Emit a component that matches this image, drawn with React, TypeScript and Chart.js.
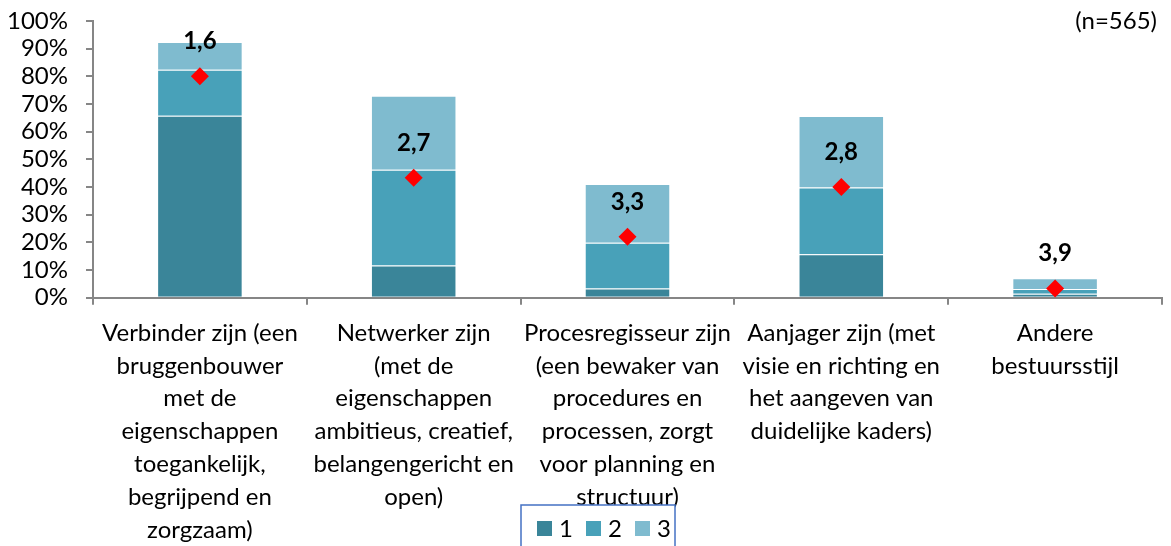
import React, { useEffect, useRef } from 'react';
import { Chart, registerables } from 'chart.js';

Chart.register(...registerables);

// ---- data ----
const categories: string[][] = [
  ['Verbinder zijn (een', 'bruggenbouwer', 'met de', 'eigenschappen', 'toegankelijk,', 'begrijpend en', 'zorgzaam)'],
  ['Netwerker zijn', '(met de', 'eigenschappen', 'ambitieus, creatief,', 'belangengericht en', 'open)'],
  ['Procesregisseur zijn', '(een bewaker van', 'procedures en', 'processen, zorgt', 'voor planning en', 'structuur)'],
  ['Aanjager zijn (met', 'visie en richting en', 'het aangeven van', 'duidelijke kaders)'],
  ['Andere', 'bestuursstijl'],
];
const seriesNames = ['1', '2', '3'];
const share1 = [65.8, 11.6, 3.3, 15.7, 1.4];
const share2 = [16.6, 34.6, 16.6, 24.1, 1.7];
const share3 = [10.0, 26.8, 21.2, 25.9, 3.9];
const meanScores = [1.6, 2.7, 3.34, 2.8, 3.9];
const meanLabels = ['1,6', '2,7', '3,3', '2,8', '3,9'];
const sampleNote = '(n=565)';

const colors = ['#3A8599', '#48A1B9', '#7FBBCF'];
const FONT = 'Lato, "Noto Sans", sans-serif';
const FS = 24;

export default function App() {
  const ref = useRef<HTMLCanvasElement | null>(null);

  useEffect(() => {
    if (!ref.current) return;

    const overlay = {
      id: 'overlay',
      afterDatasetsDraw(chart: any) {
        const ctx = chart.ctx;
        const meta = chart.getDatasetMeta(3);
        ctx.save();
        ctx.fillStyle = '#000';
        ctx.font = `bold ${FS}px ${FONT}`;
        ctx.textAlign = 'center';
        ctx.textBaseline = 'middle';
        meta.data.forEach((pt: any, i: number) => {
          ctx.fillText(meanLabels[i], pt.x, pt.y - 35);
        });
        ctx.restore();
      },
      afterDraw(chart: any) {
        const ctx = chart.ctx;
        ctx.save();
        ctx.fillStyle = '#000';
        ctx.font = `${FS}px ${FONT}`;
        ctx.textAlign = 'right';
        ctx.textBaseline = 'middle';
        ctx.fillText(sampleNote, 1157, 21);
        ctx.strokeStyle = '#4472C4';
        ctx.lineWidth = 1.5;
        ctx.fillStyle = '#fff';
        ctx.fillRect(521, 505, 154, 60);
        ctx.strokeRect(521, 505, 154, 60);
        const xs = [537, 586, 635];
        seriesNames.forEach((name, i) => {
          ctx.fillStyle = colors[i];
          ctx.fillRect(xs[i], 521, 15, 15);
          ctx.fillStyle = '#000';
          ctx.textAlign = 'left';
          ctx.font = `${FS}px ${FONT}`;
          ctx.fillText(name, xs[i] + 22, 529);
        });
        ctx.restore();
      },
    };

    const chart = new Chart(ref.current, {
      type: 'bar',
      data: {
        labels: categories,
        datasets: [
          { label: seriesNames[0], data: share1, backgroundColor: colors[0], borderColor: 'rgba(255,255,255,0.25)', borderWidth: 1, order: 1, yAxisID: 'y' },
          { label: seriesNames[1], data: share2, backgroundColor: colors[1], borderColor: 'rgba(255,255,255,0.25)', borderWidth: 1, order: 1, yAxisID: 'y' },
          { label: seriesNames[2], data: share3, backgroundColor: colors[2], borderColor: 'rgba(255,255,255,0.25)', borderWidth: 1, order: 1, yAxisID: 'y' },
          {
            type: 'line',
            label: 'gemiddelde',
            data: meanScores,
            yAxisID: 'y2',
            showLine: false,
            pointStyle: 'rectRot',
            pointRadius: 9,
            pointBackgroundColor: '#FF0000',
            pointBorderColor: '#FF0000',
            pointBorderWidth: 0,
            order: 0,
          } as any,
        ],
      },
      options: {
        animation: false,
        responsive: true,
        maintainAspectRatio: false,
        color: '#000',
        layout: { padding: { top: 21, right: 1, left: 0, bottom: 0 } },
        datasets: { bar: { barPercentage: 0.4, categoryPercentage: 1 } },
        plugins: { legend: { display: false }, tooltip: { enabled: false } },
        scales: {
          x: {
            stacked: true,
            grid: { offset: true, drawOnChartArea: false, drawTicks: true, tickLength: 7, color: '#868686', lineWidth: 2 },
            border: { color: '#868686', width: 2 },
            ticks: {
              color: '#000',
              font: { family: FONT, size: FS, lineHeight: 32.8 / FS },
              maxRotation: 0,
              autoSkip: false,
              padding: 12,
            },
            afterFit(scale: any) {
              scale.height = 248.3;
            },
          },
          y: {
            stacked: true,
            min: 0,
            max: 100,
            grid: { drawOnChartArea: false, drawTicks: true, tickLength: 7, color: '#868686', lineWidth: 2 },
            border: { color: '#868686', width: 2 },
            ticks: {
              stepSize: 10,
              autoSkip: false,
              color: '#000',
              padding: 18,
              font: { family: FONT, size: FS, lineHeight: 0.2 },
              callback: (v: any) => `${v}%`,
            },
            afterFit(scale: any) {
              scale.width = 93;
            },
          },
          y2: {
            display: false,
            min: 1,
            max: 4,
            reverse: true,
          },
        },
      },
      plugins: [overlay],
    });
    return () => chart.destroy();
  }, []);

  return (
    <div style={{ position: 'fixed', left: 0, top: 0, width: 1171, height: 546, background: '#fff' }}>
      <canvas ref={ref} />
    </div>
  );
}
